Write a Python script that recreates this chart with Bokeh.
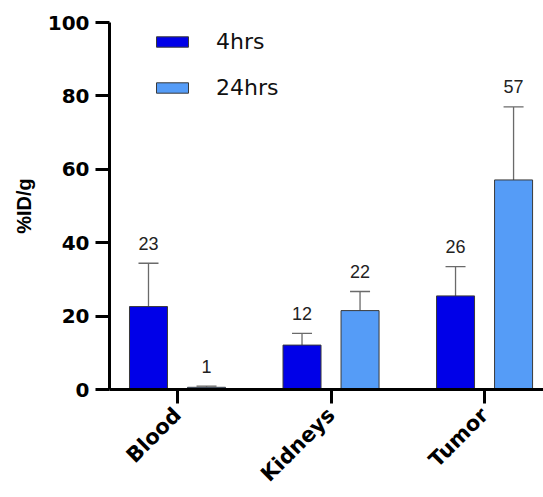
import math
from bokeh.plotting import figure
from bokeh.models import (ColumnDataSource, Range1d, FixedTicker, Whisker, TeeHead,
                          LabelSet, Legend, LegendItem)
from bokeh.core.properties import value
from bokeh.embed import file_html
from bokeh.resources import INLINE

categories = ["Blood", "Kidneys", "Tumor"]
series_names = ["4hrs", "24hrs"]
values_4h = [22.6, 12.1, 25.5]
errors_4h = [11.8, 3.2, 8.0]
values_24h = [0.6, 21.5, 57.1]
errors_24h = [0.3, 5.2, 19.9]
labels_4h = ["23", "12", "26"]
labels_24h = ["1", "22", "57"]
y_ticks = [0, 20, 40, 60, 80, 100]

colors = ["#0000E8", "#559CF7"]
FONT = "Liberation Sans"
WFONT = "DejaVu Sans"
offset = 0.189
bar_w = 0.2476

p = figure(width=543, height=497, output_backend="svg", toolbar_location=None,
           x_range=Range1d(-0.443, 2.384), y_range=Range1d(0, 100),
           min_border_left=109, min_border_right=0, min_border_top=22,
           min_border_bottom=107)
p.outline_line_color = None
p.xgrid.visible = False
p.ygrid.visible = False

renderers = []
for k, (vals, errs, labs, col, off) in enumerate([
        (values_4h, errors_4h, labels_4h, colors[0], -offset),
        (values_24h, errors_24h, labels_24h, colors[1], offset)]):
    xs = [i + off for i in range(len(categories))]
    src = ColumnDataSource(dict(
        x=xs, top=vals, upper=[v + e for v, e in zip(vals, errs)], lab=labs))
    r = p.vbar(x="x", top="top", width=bar_w, source=src, fill_color=col,
               line_color="#3a3a3a", line_width=1)
    renderers.append(r)
    w = Whisker(base="x", upper="upper", lower="top", source=src,
                line_color="#6a6a6a", line_width=1.3,
                upper_head=TeeHead(size=20, line_color="#6a6a6a", line_width=1.3),
                lower_head=None)
    p.add_layout(w)
    ls = LabelSet(x="x", y="upper", text="lab", source=src, y_offset=20,
                  text_align="center", text_baseline="middle",
                  text_font=value(FONT), text_font_size="18px", text_color="#222222")
    p.add_layout(ls)

legend = Legend(items=[LegendItem(label=series_names[i], renderers=[renderers[i]])
                       for i in range(2)],
                location=(43, 289), orientation="vertical",
                glyph_width=40, glyph_height=13, label_height=13,
                label_standoff=24, spacing=21, padding=0, margin=0,
                border_line_color=None, background_fill_alpha=0,
                label_text_font=WFONT, label_text_font_size="22px",
                label_text_color="#111111")
p.add_layout(legend)

for ax in (p.xaxis[0], p.yaxis[0]):
    ax.axis_line_width = 3
    ax.axis_line_color = "black"
    ax.major_tick_line_width = 3
    ax.major_tick_line_color = "black"
    ax.major_tick_out = 14
    ax.major_tick_in = 0
    ax.minor_tick_line_color = None
    ax.major_label_text_font = WFONT
    ax.major_label_text_font_style = "bold"
    ax.major_label_text_color = "black"

p.yaxis.major_label_text_font_size = "20px"
p.yaxis.ticker = FixedTicker(ticks=y_ticks)
p.yaxis.major_label_standoff = 6
p.yaxis.axis_label = "%ID/g"
p.yaxis.axis_label_text_font = FONT
p.yaxis.axis_label_text_font_size = "20px"
p.yaxis.axis_label_text_font_style = "bold"
p.yaxis.axis_label_text_color = "black"
p.yaxis.axis_label_standoff = 10

p.xaxis.major_label_text_font_size = "21px"
p.xaxis.ticker = FixedTicker(ticks=list(range(len(categories))))
p.xaxis.major_label_overrides = {i: c for i, c in enumerate(categories)}
p.xaxis.major_label_orientation = math.pi / 4
p.xaxis.major_label_standoff = 8

open("out.html", "w").write(file_html(p, INLINE))
